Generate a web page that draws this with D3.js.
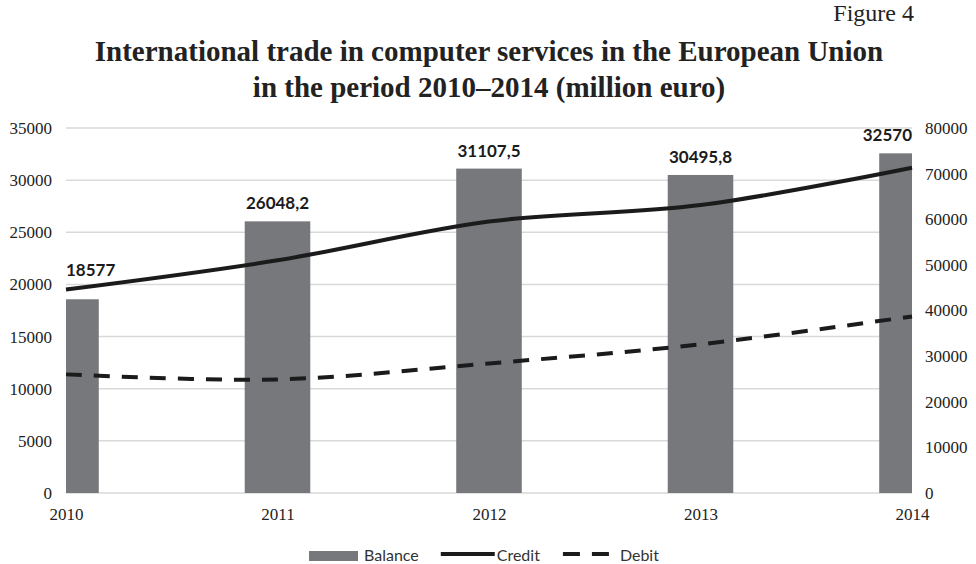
<!DOCTYPE html>
<html>
<head>
<meta charset="utf-8">
<script src="https://cdn.jsdelivr.net/npm/d3@7/dist/d3.min.js"></script>
<style>
  html, body { margin: 0; padding: 0; background: #fff; }
  svg { display: block; }
</style>
</head>
<body>
<svg id="chart" width="976" height="564"></svg>
<script>
// EU international trade in computer services, 2010–2014 (million euro)
const years = ["2010", "2011", "2012", "2013", "2014"];
const balance = [18577, 26048.2, 31107.5, 30495.8, 32570];
const credit = [44600, 51000, 59500, 63100, 71300];
const debit = [26000, 24900, 28400, 32600, 38700];
const balanceLabels = ["18577", "26048,2", "31107,5", "30495,8", "32570"];
const leftTicks = [0, 5000, 10000, 15000, 20000, 25000, 30000, 35000];
const rightTicks = [0, 10000, 20000, 30000, 40000, 50000, 60000, 70000, 80000];
const seriesNames = ["Balance", "Credit", "Debit"];

const W = 976, H = 564;
const plot = { left: 66, right: 912, top: 128, bottom: 493 };
const serif = "'Liberation Serif', 'Times New Roman', serif";
const sans = "Lato, 'Open Sans', sans-serif";
const barColor = "#77787b";
const lineColor = "#1b1b1b";
const gridColor = "#d9d9d9";

const svg = d3.select("#chart");

const x = d3.scalePoint().domain(years).range([plot.left, plot.right]);
const yL = d3.scaleLinear().domain([0, 35000]).range([plot.bottom, plot.top]);
const yR = d3.scaleLinear().domain([0, 80000]).range([plot.bottom, plot.top]);
const barW = x.step() * 0.31;

// Titles
svg.append("text")
  .attr("x", 914).attr("y", 21)
  .attr("text-anchor", "end")
  .style("font-family", serif).style("font-size", "24px")
  .attr("fill", "#222")
  .text("Figure 4");

const titleLines = [
  "International trade in computer services in the European Union",
  "in the period 2010–2014 (million euro)"
];
svg.append("g").selectAll("text").data(titleLines).join("text")
  .attr("x", 489).attr("y", (d, i) => 61 + i * 36)
  .attr("text-anchor", "middle")
  .style("font-family", serif).style("font-size", "29px").style("font-weight", "bold")
  .attr("fill", "#222")
  .text(d => d);

// Horizontal gridlines on the left-axis ticks
svg.append("g").selectAll("line").data(leftTicks).join("line")
  .attr("x1", plot.left).attr("x2", plot.right)
  .attr("y1", d => yL(d)).attr("y2", d => yL(d))
  .attr("stroke", gridColor).attr("stroke-width", 1.5);

// Bars are clipped at the plot edges (categories sit on the edge ticks)
svg.append("clipPath").attr("id", "plotClip")
  .append("rect")
  .attr("x", plot.left).attr("y", plot.top - 40)
  .attr("width", plot.right - plot.left).attr("height", plot.bottom - plot.top + 40);

svg.append("g").attr("clip-path", "url(#plotClip)")
  .selectAll("rect").data(balance).join("rect")
  .attr("x", (d, i) => x(years[i]) - barW / 2)
  .attr("width", barW)
  .attr("y", d => yL(d))
  .attr("height", d => yL(0) - yL(d))
  .attr("fill", barColor);

// Credit and debit lines on the right axis
const line = d3.line()
  .x((d, i) => x(years[i]))
  .y(d => yR(d))
  .curve(d3.curveCatmullRom.alpha(0));

svg.append("path").datum(credit)
  .attr("d", line)
  .attr("fill", "none").attr("stroke", lineColor).attr("stroke-width", 4)
  .attr("stroke-linejoin", "round");

svg.append("path").datum(debit)
  .attr("d", line)
  .attr("fill", "none").attr("stroke", lineColor).attr("stroke-width", 4)
  .attr("stroke-dasharray", "16,12");

// Balance value labels, kept inside the plot and lifted clear of the credit line
const labelG = svg.append("g");
balance.forEach((v, i) => {
  const cx = x(years[i]);
  const t = labelG.append("text")
    .style("font-family", sans).style("font-size", "17px").style("font-weight", "bold")
    .attr("fill", "#1b1b1b")
    .text(balanceLabels[i]);
  const w = t.node().getComputedTextLength();
  let left = cx - w / 2;
  left = Math.max(plot.left, Math.min(plot.right - w, left));
  let base = yL(v) - 12;
  const lineY = yR(credit[i]);
  if (base + 4 > lineY - 3 && base - 14 < lineY + 3) base = lineY - 14;
  t.attr("x", left).attr("y", base);
});

// Axes
const axisLeft = svg.append("g")
  .attr("transform", `translate(${plot.left},0)`)
  .call(d3.axisLeft(yL).tickValues(leftTicks).tickSize(0).tickPadding(14).tickFormat(d3.format("d")));
const axisRight = svg.append("g")
  .attr("transform", `translate(${plot.right},0)`)
  .call(d3.axisRight(yR).tickValues(rightTicks).tickSize(0).tickPadding(13).tickFormat(d3.format("d")));
const axisBottom = svg.append("g")
  .attr("transform", `translate(0,${plot.bottom})`)
  .call(d3.axisBottom(x).tickSize(0).tickPadding(15));

[axisLeft, axisRight, axisBottom].forEach(a => {
  a.select(".domain").remove();
  a.selectAll("text")
    .style("font-family", serif).style("font-size", "17px").attr("fill", "#222");
});

// Legend
const legend = svg.append("g").attr("transform", "translate(0,555)");
const legendFont = t => t.style("font-family", sans).style("font-size", "16px").attr("fill", "#333");

let lx = 309;
legend.append("rect").attr("x", lx).attr("y", -4).attr("width", 49).attr("height", 10).attr("fill", barColor);
lx += 55;
let t1 = legend.append("text").attr("x", lx).attr("y", 6).text(seriesNames[0]).call(legendFont);
lx += t1.node().getComputedTextLength() + 22;
legend.append("line").attr("x1", lx).attr("x2", lx + 54).attr("y1", -1).attr("y2", -1)
  .attr("stroke", lineColor).attr("stroke-width", 4);
lx += 56;
let t2 = legend.append("text").attr("x", lx).attr("y", 6).text(seriesNames[1]).call(legendFont);
lx += t2.node().getComputedTextLength() + 23;
legend.append("line").attr("x1", lx).attr("x2", lx + 46).attr("y1", -1).attr("y2", -1)
  .attr("stroke", lineColor).attr("stroke-width", 4).attr("stroke-dasharray", "17,12");
lx += 57;
legend.append("text").attr("x", lx).attr("y", 6).text(seriesNames[2]).call(legendFont);
</script>
</body>
</html>
